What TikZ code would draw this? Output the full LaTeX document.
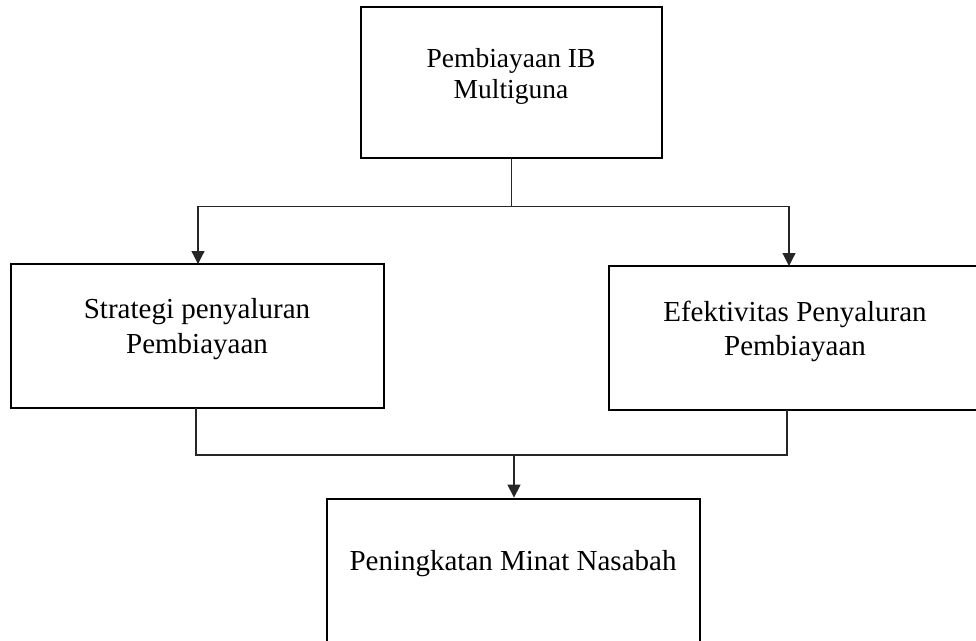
\documentclass[tikz,border=0pt]{standalone}
\usepackage{fontspec}
\setmainfont{Liberation Serif}
\usetikzlibrary{arrows.meta,calc}
\begin{document}
\begin{tikzpicture}[x=1pt,y=-1pt,
  boxst/.style={draw=black,line width=2.8pt,rectangle,inner sep=0pt},
  lbl/.style={align=center,inner sep=0pt,font=\fontsize{29}{35}\selectfont},
  conn/.style={draw=black!85,line width=1.2pt},
  arr/.style={conn,-{Triangle[length=13pt,width=13pt]}}]
\useasboundingbox (0,0) rectangle (976,640);
\clip (0,0) rectangle (976,640);
% boxes
\node[boxst,minimum width=301pt,minimum height=151pt] (top) at (511.5,82.5) {};
\node[boxst,minimum width=373pt,minimum height=144pt] (left) at (197.5,336) {};
\node[boxst,minimum width=380pt,minimum height=144pt] (right) at (799,338) {};
\node[boxst,minimum width=373pt,minimum height=170pt] (bottom) at (513.5,584) {};
% texts
\node[lbl,font=\fontsize{27.5}{31}\selectfont] (ttop) at (511,76) {Pembiayaan IB\\Multiguna};
\node[lbl] (tleft) at (197,329) {Strategi penyaluran\\Pembiayaan};
\node[lbl,font=\fontsize{29}{34}\selectfont] (tright) at (795,331) {Efektivitas Penyaluran\\Pembiayaan};
\node[lbl] (tbottom) at (513,564) {Peningkatan Minat Nasabah};
% connector points
\coordinate (split) at ($(top.south)+(0,47)$);
\coordinate (rin) at (789,266);
\coordinate (lin) at (198,264);
\coordinate (lout) at (196,408);
\coordinate (rout) at (787,410);
\coordinate (join) at (514,455);
% connectors
\draw[conn] (top.south) -- (split);
\draw[arr] (split) -| (lin);
\draw[arr] (split) -| (rin);
\draw[conn] (lout) |- (join);
\draw[conn] (rout) |- (join);
\draw[arr] (join) -- (bottom.north -| join);
\end{tikzpicture}
\end{document}
